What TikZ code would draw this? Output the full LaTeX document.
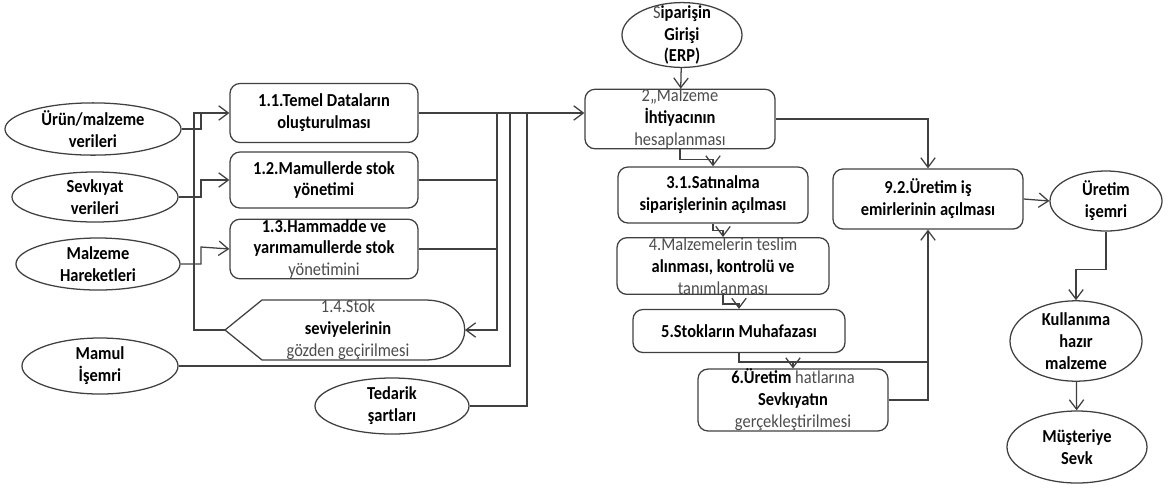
\documentclass[tikz,border=0pt]{standalone}
\usepackage{fontspec}
\setmainfont{Carlito}[FakeStretch=0.9]
\usetikzlibrary{arrows.meta,calc,positioning,shapes.geometric}
\def\faint(#1){{\mdseries\color{black!70}#1}}
\tikzstyle{box} = [rectangle, rounded corners=2.5mm, draw=black!75, line width=0.9pt, align=center, inner sep=0pt, font=\bfseries\fontsize{13}{15.6}\selectfont]
\tikzstyle{oval} = [ellipse, draw=black!75, line width=0.9pt, align=center, inner sep=0pt, font=\bfseries\fontsize{13}{15.6}\selectfont]
\tikzstyle{line} = [draw=black!75, line width=0.9pt]
\tikzstyle{arrow} = [line, -{Straight Barb[length=2.4mm,width=3.6mm]}]

\begin{document}
\begin{tikzpicture}[x=0.025cm,y=-0.025cm]
\useasboundingbox (0,0) rectangle (1171,489);
% left inputs
\node (e1) at (93,129) [oval, minimum width=4.4cm, minimum height=1.25cm] {Ürün/malzeme\\verileri};
\node (e2) at (95,197) [oval, minimum width=4.15cm, minimum height=1.25cm] {Sevkıyat\\verileri};
\node (e3) at (98,264) [oval, minimum width=4.1cm, minimum height=1.3cm] {Malzeme\\Hareketleri};
\node (e4) at (100,366) [oval, minimum width=3.9cm, minimum height=1.4cm] {Mamul\\İşemri};
\node (e5) at (392,406) [oval, minimum width=3.85cm, minimum height=1.4cm] {Tedarik\\şartları};
% step 1 boxes
\node (b11) at (324,113) [box, minimum width=4.7cm, minimum height=1.475cm] {1.1.Temel Dataların\\oluşturulması};
\node (b12) at (324,180) [box, minimum width=4.7cm, minimum height=1.4cm] {1.2.Mamullerde stok\\yönetimi};
\node (b13) at (324,249) [box, minimum width=4.7cm, minimum height=1.45cm] {1.3.Hammadde ve\\yarımamullerde stok\\\faint(yönetimini)};
\node (b14) at (348,330) [align=center, inner sep=0pt, font=\bfseries\fontsize{13}{15.6}\selectfont] {\faint(1.4.Stok)\\seviyelerinin\\\faint(gözden geçirilmesi)};
\coordinate (b14w) at (225,330);
\coordinate (b14e) at (465,330);
\draw[line] (b14w) -- (262,300) -- (425,300) .. controls (478,300) and (478,360) .. (425,360) -- (262,360) -- cycle;
% middle column
\node (sip) at (682,35) [oval, inner sep=-6pt, minimum width=3cm, minimum height=1.62cm] {\faint(S)iparişin\\Girişi\\(ERP)};
\node (b2) at (680,119) [box, minimum width=4.75cm, minimum height=1.375cm] {\faint(2,,Malzeme)\\İhtiyacının\\\faint(hesaplanması)};
\node (b31) at (713,195) [box, minimum width=4.75cm, minimum height=1.4cm] {3.1.Satınalma\\siparişlerinin açılması};
\node (b4) at (723,266) [box, minimum width=5.3cm, minimum height=1.325cm] {\faint(4.Malzemelerin teslim)\\alınması, kontrolü ve\\\faint(tanımlanması)};
\node (b5) at (739,331) [box, minimum width=5.3cm, minimum height=1.075cm] {5.Stokların Muhafazası};
\node (b6) at (793,400) [box, minimum width=4.75cm, minimum height=1.375cm] {6.Üretim \faint(hatlarına)\\Sevkıyatın\\\faint(gerçekleştirilmesi)};
\node (b92) at (928,199) [box, minimum width=4.75cm, minimum height=1.5cm] {9.2.Üretim iş\\emirlerinin açılması};
% right outputs
\node (ur) at (1106,201) [oval, minimum width=2.8cm, minimum height=1.5cm] {Üretim\\işemri};
\node (kul) at (1076,341) [oval, minimum width=3.3cm, minimum height=1.9cm] {Kullanıma\\hazır\\malzeme};
\node (mus) at (1077,447) [oval, minimum width=3.5cm, minimum height=1.8cm] {Müşteriye\\Sevk};
% junctions
\coordinate (c0) at (194,113);
\coordinate (c1) at (201,113);
\coordinate (c2) at (201,180);
\coordinate (c3) at (201,247);
\coordinate (d1) at (497,113);
\coordinate (d2) at (510,113);
\coordinate (d3) at (527,113);
\coordinate (f1) at (928,362);
% left connectors
\draw[arrow] (e1.east) -| (c1) -- (b11.west);
\draw[arrow] (e2.east) -| (c2) -- (b12.west);
\draw[arrow] (e3.east) -| (c3) -- (b13.west);
\draw[line] (b14w) -| (c0) -- (c1);
\draw[arrow] (b11.east) -- (b11.east -| b2.west);
\draw[arrow] (d1) |- (b14e);
\draw[line] (b12.east) -- (b12.east -| d1);
\draw[line] (b13.east) -- (b13.east -| d1);
\draw[line] (e4.east) -| (d2);
\draw[line] (e5.east) -| (d3);
% middle connectors
\draw[arrow] (sip) -- (b2);
\draw[arrow] (b2.east) -| (b92.north);
\draw[arrow] (b2.south) -- ++(0,10) -| (b31.north);
\draw[arrow] (b31.south) -- ++(0,7) -| (b4.north);
\draw[arrow] (b4.south) -- ++(0,9) -| (b5.north);
\draw[line] (b5.south) |- (f1);
\draw[arrow] (b6.north |- f1) -- (b6.north);
\draw[arrow] (b6.east) -| (b92.south);
% right connectors
\draw[arrow] (b92.east) -- (ur.west);
\draw[arrow] (ur.south) -- ++(0,38) -| (kul.north);
\draw[arrow] (kul) -- (mus);
\end{tikzpicture}
\end{document}
